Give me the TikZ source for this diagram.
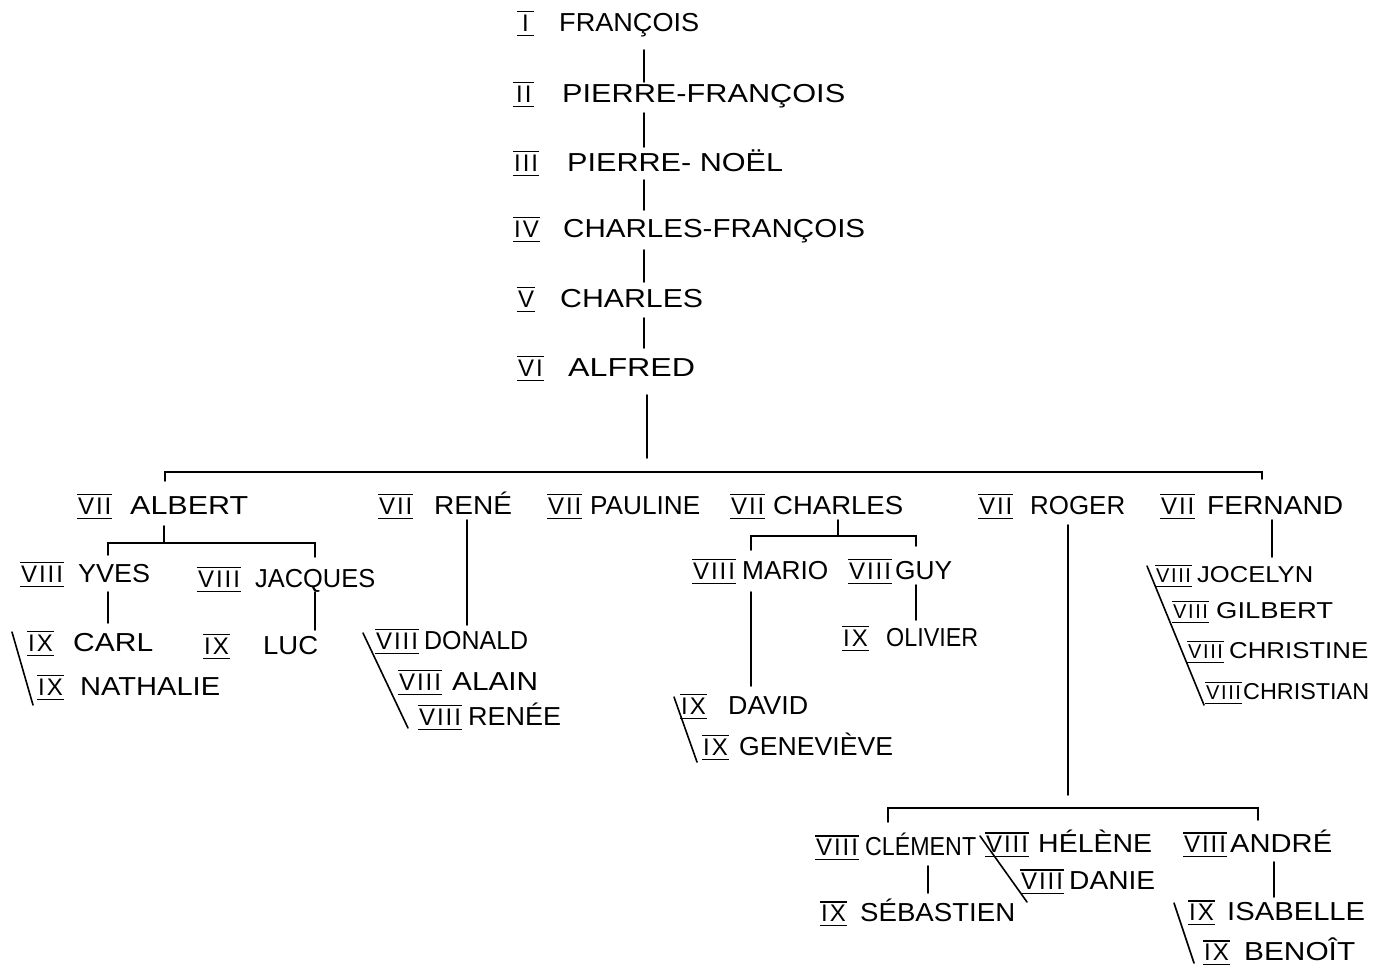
\documentclass[tikz,border=0pt]{standalone}
\usepackage{fontspec}
\usepackage{graphicx}
\newfontfamily\namefont{Liberation Sans}
\newfontfamily\numfontface{Liberation Sans}[LetterSpace=8]
\newcommand\numsize{24}
\newcommand\numfont{\numfontface\fontsize{\numsize}{26}\selectfont}
\newcommand\rn[1]{\setbox0=\hbox{\numfont\kern1pt#1\kern1pt}\rlap{\rule[-5pt]{\wd0}{1.5pt}}\rlap{\rule[\dimexpr\ht0+2pt\relax]{\wd0}{1.5pt}}\box0}
\newcommand\pn[4]{\makebox[#1pt][l]{\rn{#2}}\resizebox{#3pt}{\height}{#4}}
\tikzset{
  p/.style={anchor=base west, inner sep=0pt, font=\namefont\fontsize{26}{30}\selectfont},
  ps/.style={anchor=base west, inner sep=0pt, font=\namefont\fontsize{23}{27}\selectfont\renewcommand\numsize{20}},
  ln/.style={line width=1.6pt, line cap=round},
  vl/.style 2 args={ln, shorten <=#1pt, shorten >=#2pt}
}
\begin{document}
\begin{tikzpicture}[x=1pt,y=-1pt]
\useasboundingbox (0,0) rectangle (1387,967);
% ---------- trunk ----------
\node[p] (f1) at (517,31)  {\pn{42}{\kern4pt I\kern4pt}{140}{FRANÇOIS}};
\node[p] (f2) at (513,102) {\pn{49}{\kern2pt II\kern2pt}{283}{PIERRE-FRANÇOIS}};
\node[p] (f3) at (513,171) {\pn{54}{III}{216}{PIERRE- NOËL}};
\node[p] (f4) at (513,237) {\pn{50}{IV}{302}{CHARLES-FRANÇOIS}};
\node[p] (f5) at (517,307) {\pn{43}{V}{143}{CHARLES}};
\node[p] (f6) at (517,376) {\pn{51}{VI}{127}{ALFRED}};
\coordinate (tx) at (644,0);
\coordinate (tb) at (647,458);
\draw[vl={19}{20}] (f1.base -| tx) -- (f2.base -| tx);
\draw[vl={11}{24}] (f2.base -| tx) -- (f3.base -| tx);
\draw[vl={9}{27}]  (f3.base -| tx) -- (f4.base -| tx);
\draw[vl={13}{25}] (f4.base -| tx) -- (f5.base -| tx);
\draw[vl={11}{28}] (f5.base -| tx) -- (f6.base -| tx);
\draw[vl={19}{0}]  (f6.base -| tb) -- (tb);
% ---------- generation VII ----------
\node[p] (albert)  at (77,514)   {\pn{53}{VII}{118}{ALBERT}};
\node[p] (rene)    at (378,514)  {\pn{56}{VII}{78}{RENÉ}};
\node[p] (pauline) at (547,514)  {\pn{43}{VII}{110}{PAULINE}};
\node[p] (charles) at (730,514)  {\pn{43}{VII}{130}{CHARLES}};
\node[p] (roger)   at (978,514)  {\pn{52}{VII}{95}{ROGER}};
\node[p] (fernand) at (1160,514) {\pn{47}{VII}{136}{FERNAND}};
\coordinate (bL) at (165,472);
\coordinate (bR) at (1262,472);
\draw[ln, shorten <=33pt, shorten >=35pt] (albert.base -| bL) -- (bL) -- (bR) -- (fernand.base -| bR);
% ---------- ALBERT ----------
\node[p] (yves)     at (20,582)  {\pn{58}{VIII}{72}{YVES}};
\node[p] (jacques)  at (197,587) {\pn{58}{VIII}{120}{JACQUES}};
\node[p] (carl)     at (27,651)  {\pn{46}{IX}{80}{CARL}};
\node[p] (nathalie) at (37,695)  {\pn{43}{IX}{140}{NATHALIE}};
\node[p] (luc)      at (203,654) {\pn{60}{IX}{55}{LUC}};
\coordinate (ab) at (164,543);
\coordinate (abL) at (108,543);
\coordinate (abR) at (315,543);
\draw[vl={12}{0}] (albert.base -| ab) -- (ab);
\draw[ln, shorten <=27pt, shorten >=30pt] (yves.base -| abL) -- (abL) -- (abR) -- (jacques.base -| abR);
\draw[vl={10}{28}] (yves.base -| abL) -- (carl.base -| abL);
\draw[vl={5}{24}] (jacques.base -| abR) -- (luc.base -| abR);
\coordinate (s1a) at (12,632);
\coordinate (s1b) at (33,705);
\draw[ln] (s1a) -- (s1b);
% ---------- RENE ----------
\node[p] (donald) at (375,649) {\pn{49}{VIII}{104}{DONALD}};
\node[p] (alain)  at (398,690) {\pn{54}{VIII}{86}{ALAIN}};
\node[p] (renee)  at (418,725) {\pn{50}{VIII}{93}{RENÉE}};
\coordinate (rx) at (467,0);
\draw[vl={6}{24}] (rene.base -| rx) -- (donald.base -| rx);
\coordinate (s2a) at (363,633);
\coordinate (s2b) at (408,728);
\draw[ln] (s2a) -- (s2b);
% ---------- CHARLES ----------
\node[p] (mario)     at (692,579) {\pn{50}{VIII}{86}{MARIO}};
\node[p] (guy)       at (848,579) {\pn{47}{VIII}{57}{GUY}};
\node[p] (olivier)   at (842,646) {\pn{44}{IX}{92}{OLIVIER}};
\node[p] (david)     at (680,714) {\pn{48}{IX}{80}{DAVID}};
\node[p] (genevieve) at (702,755) {\pn{37}{IX}{154}{GENEVIÈVE}};
\coordinate (cb) at (838,536);
\coordinate (cbL) at (751,536);
\coordinate (cbR) at (916,536);
\draw[vl={6}{0}] (charles.base -| cb) -- (cb);
\draw[ln, shorten <=29pt, shorten >=33pt] (mario.base -| cbL) -- (cbL) -- (cbR) -- (guy.base -| cbR);
\draw[vl={13}{28}] (mario.base -| cbL) -- (david.base -| cbL);
\draw[vl={6}{26}] (guy.base -| cbR) -- (olivier.base -| cbR);
\coordinate (s3a) at (674,697);
\coordinate (s3b) at (697,762);
\draw[ln] (s3a) -- (s3b);
% ---------- ROGER ----------
\node[p] (clement)   at (815,855)  {\pn{50}{VIII}{111}{CLÉMENT}};
\node[p] (helene)    at (985,852)  {\pn{53}{VIII}{114}{HÉLÈNE}};
\node[p] (danie)     at (1020,889) {\pn{49}{VIII}{86}{DANIE}};
\node[p] (sebastien) at (820,921)  {\pn{40}{IX}{155}{SÉBASTIEN}};
\node[p] (andre)     at (1183,852) {\pn{47}{VIII}{102}{ANDRÉ}};
\node[p] (isabelle)  at (1188,920) {\pn{39}{IX}{138}{ISABELLE}};
\node[p] (benoit)    at (1203,960) {\pn{41}{IX}{111}{BENOÎT}};
\coordinate (rgt) at (1068,795);
\coordinate (rbL) at (888,808);
\coordinate (rbR) at (1258,808);
\draw[vl={11}{0}] (roger.base -| rgt) -- (rgt);
\draw[ln, shorten <=33pt, shorten >=32pt] (clement.base -| rbL) -- (rbL) -- (rbR) -- (andre.base -| rbR);
\coordinate (cx) at (928,0);
\draw[vl={11}{28}] (clement.base -| cx) -- (sebastien.base -| cx);
\coordinate (ax) at (1274,0);
\draw[vl={10}{23}] (andre.base -| ax) -- (isabelle.base -| ax);
\coordinate (s5a) at (980,836);
\coordinate (s5b) at (1027,902);
\draw[ln] (s5a) -- (s5b);
\coordinate (s6a) at (1174,903);
\coordinate (s6b) at (1194,963);
\draw[ln] (s6a) -- (s6b);
% ---------- FERNAND ----------
\node[ps] (jocelyn)   at (1155,582) {\pn{42}{VIII}{116}{JOCELYN}};
\node[ps] (gilbert)   at (1172,618) {\pn{44}{VIII}{117}{GILBERT}};
\node[ps] (christine) at (1187,658) {\pn{42}{VIII}{139}{CHRISTINE}};
\node[ps] (christian) at (1205,699) {\pn{38}{VIII}{126}{CHRISTIAN}};
\coordinate (fx) at (1272,0);
\draw[vl={6}{25}] (fernand.base -| fx) -- (jocelyn.base -| fx);
\coordinate (s4a) at (1147,566);
\coordinate (s4b) at (1204,705);
\draw[ln] (s4a) -- (s4b);
\end{tikzpicture}
\end{document}
